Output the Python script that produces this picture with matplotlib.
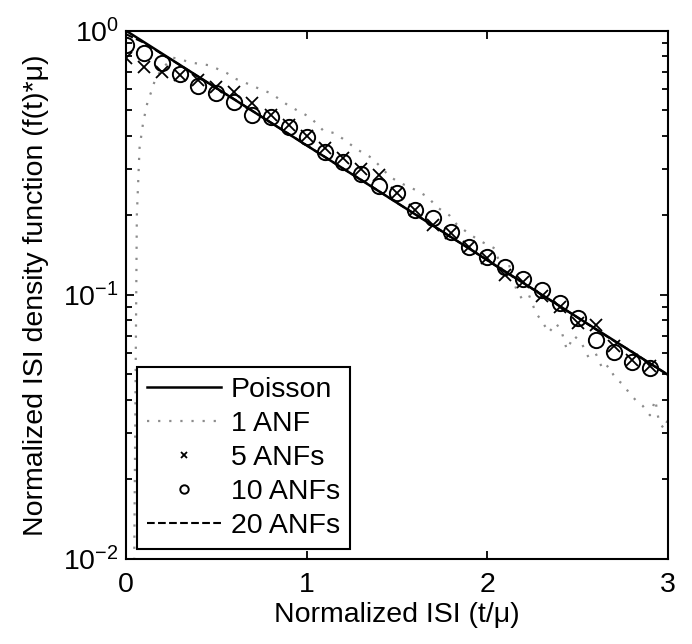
import matplotlib
matplotlib.use("Agg")
import matplotlib.pyplot as plt
from matplotlib.ticker import LogLocator, FixedLocator

plt.rcParams['font.family'] = ['Liberation Sans', 'DejaVu Sans']
plt.rcParams['mathtext.fontset'] = 'custom'
plt.rcParams['mathtext.rm'] = 'Liberation Sans'
plt.rcParams['mathtext.it'] = 'Liberation Sans:italic'

# ---- data ----
poisson_x = [0.0, 3.0]
poisson_y = [1.0, 0.0498]

anf1_x = [0.045, 0.06, 0.075, 0.095, 0.12, 0.145, 0.16, 0.2, 0.26, 0.3, 0.35, 0.4, 0.46,
          0.5, 0.56, 0.6, 0.65, 0.72, 0.8, 0.85, 0.9, 0.97, 1.02, 1.09, 1.15, 1.2, 1.28,
          1.36, 1.42, 1.46, 1.52, 1.6, 1.67, 1.72, 1.79, 1.83, 1.9, 1.96, 2.04, 2.08, 2.12,
          2.16, 2.19, 2.23, 2.27, 2.3, 2.34, 2.38, 2.41, 2.44, 2.48, 2.52, 2.56, 2.6, 2.64,
          2.67, 2.71, 2.75, 2.78, 2.82, 2.86, 2.9, 2.93, 2.95, 2.98, 3.0]
anf1_y = [0.009, 0.2, 0.36, 0.45, 0.54, 0.6, 0.65, 0.72, 0.79, 0.78, 0.76, 0.75, 0.74,
          0.72, 0.69, 0.66, 0.64, 0.61, 0.58, 0.55, 0.52, 0.49, 0.47, 0.42, 0.41, 0.39, 0.355,
          0.33, 0.30, 0.28, 0.265, 0.25, 0.235, 0.215, 0.20, 0.185, 0.17, 0.16, 0.15, 0.125, 0.13,
          0.105, 0.097, 0.10, 0.085, 0.08, 0.072, 0.078, 0.073, 0.062, 0.07, 0.066, 0.058, 0.06, 0.052,
          0.054, 0.048, 0.046, 0.043, 0.040, 0.038, 0.035, 0.040, 0.033, 0.031, 0.034]

grid_x = [0.0, 0.1, 0.2, 0.3, 0.4, 0.5, 0.6, 0.7, 0.8, 0.9, 1.0, 1.1, 1.2, 1.3, 1.4,
          1.5, 1.6, 1.7, 1.8, 1.9, 2.0, 2.1, 2.2, 2.3, 2.4, 2.5, 2.6, 2.7, 2.8, 2.9]

anf5_y = [0.786, 0.731, 0.699, 0.68, 0.651, 0.614, 0.588, 0.531, 0.48, 0.44, 0.40, 0.36,
          0.33, 0.30, 0.284, 0.242, 0.21, 0.184, 0.172, 0.152, 0.138, 0.119, 0.112, 0.0987,
          0.0903, 0.0783, 0.0772, 0.064, 0.0567, 0.0537]

anf10_y = [0.883, 0.821, 0.753, 0.686, 0.618, 0.580, 0.539, 0.480, 0.470, 0.433, 0.397, 0.348,
           0.319, 0.286, 0.258, 0.242, 0.210, 0.195, 0.173, 0.152, 0.139, 0.127, 0.1146, 0.1044,
           0.0929, 0.0815, 0.0675, 0.061, 0.0559, 0.0527]

anf20_x = [0.0, 0.1, 0.2, 0.3, 0.4, 0.5, 0.6, 0.7, 0.8, 0.9, 1.0, 1.1, 1.2, 1.3, 1.4, 1.5,
           1.6, 1.7, 1.8, 1.9, 2.0, 2.1, 2.2, 2.3, 2.4, 2.5, 2.6, 2.7, 2.8, 2.9, 3.0]
anf20_y = [0.97, 0.90, 0.815, 0.74, 0.67, 0.605, 0.55, 0.497, 0.45, 0.407, 0.368, 0.333,
           0.301, 0.273, 0.247, 0.223, 0.202, 0.183, 0.165, 0.150, 0.135, 0.122, 0.111, 0.100,
           0.0907, 0.082, 0.074, 0.067, 0.061, 0.055, 0.0498]

xticks = [0, 1, 2, 3]

# ---- figure ----
fig = plt.figure(figsize=(6.92, 6.44), dpi=100)
ax = fig.add_axes([126 / 692, 1 - 559 / 644, (668 - 126) / 692, (559 - 30.7) / 644])

fs = 20.5
ax.plot(anf1_x, anf1_y, linestyle=(0, (1, 4)), color='#8c8c8c', linewidth=1.6, label='1 ANF', zorder=2)
ax.plot(anf20_x, anf20_y, linestyle='--', color='black', linewidth=1.5, label='20 ANFs', zorder=3)
ax.plot(grid_x, anf5_y, linestyle='none', marker='x', markersize=8, markeredgewidth=1.3,
        color='black', label='5 ANFs', zorder=4)
ax.plot(grid_x, anf10_y, linestyle='none', marker='o', markersize=11, markeredgewidth=1.4,
        markerfacecolor='none', markeredgecolor='black', label='10 ANFs', zorder=4)
ax.plot(poisson_x, poisson_y, linestyle='-', color='black', linewidth=1.8, label='Poisson', zorder=5)

ax.set_yscale('log')
ax.set_xlim(0, 3)
ax.set_ylim(0.01, 1)
ax.xaxis.set_major_locator(FixedLocator(xticks))
ax.yaxis.set_major_locator(LogLocator(base=10, numticks=10))
ax.yaxis.set_minor_locator(LogLocator(base=10, subs=range(2, 10), numticks=20))
ax.tick_params(which='both', direction='in', top=True, right=True, width=1.3)
ax.tick_params(which='major', length=6, labelsize=fs, pad=5)
ax.tick_params(axis='x', which='major', pad=9)
ax.tick_params(which='minor', length=4)
for s in ax.spines.values():
    s.set_linewidth(1.5)

ax.set_xlabel('Normalized ISI (t/\u03bc)', fontsize=fs, labelpad=3)
ax.set_ylabel('Normalized ISI density function (f(t)*\u03bc)', fontsize=fs, labelpad=10)

h = ax.get_legend_handles_labels()
order = ['Poisson', '1 ANF', '5 ANFs', '10 ANFs', '20 ANFs']
hd = dict(zip(h[1], h[0]))
leg = ax.legend([hd[k] for k in order], order, loc='lower left',
                bbox_to_anchor=(137 / 692, 1 - 549 / 644), bbox_transform=fig.transFigure,
                fontsize=fs, frameon=True, fancybox=False, edgecolor='black',
                handlelength=2.6, handletextpad=0.35, borderpad=0.35, labelspacing=0.28,
                markerscale=0.55, borderaxespad=0)
leg.get_frame().set_linewidth(1.5)
leg.get_frame().set_alpha(1)

fig.savefig('out.png', dpi=100)
